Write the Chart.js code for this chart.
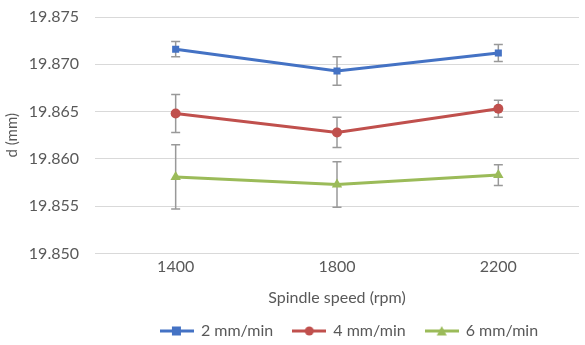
<!DOCTYPE html>
<html>
<head>
<meta charset="utf-8">
<script src="https://cdn.jsdelivr.net/npm/chart.js@4"></script>
<style>
  html, body { margin: 0; padding: 0; background: #fff; }
  #wrap { width: 585px; height: 345px; }
</style>
</head>
<body>
<div id="wrap"><canvas id="chart"></canvas></div>
<script>
const speeds = ['1400', '1800', '2200'];
const seriesNames = ['2 mm/min', '4 mm/min', '6 mm/min'];
const d2 = [19.8716, 19.8693, 19.8712];
const d4 = [19.8648, 19.8628, 19.8653];
const d6 = [19.8581, 19.8573, 19.8583];
const err2 = [0.0008, 0.0015, 0.0009];
const err4 = [0.0020, 0.0016, 0.0009];
const err6 = [0.0034, 0.0024, 0.0011];
const yMin = 19.850, yMax = 19.875, yStep = 0.005;

const colors = ['#4472c4', '#c0504d', '#9bbb59'];
const markers = ['rect', 'circle', 'triangle'];

// little "line + marker" images for the legend
function legendIcon(color, style) {
    const c = document.createElement('canvas');
    c.width = 34; c.height = 12;
    const g = c.getContext('2d');
    g.strokeStyle = color; g.lineWidth = 3;
    g.beginPath(); g.moveTo(0, 6); g.lineTo(34, 6); g.stroke();
    g.fillStyle = color;
    if (style === 'rect') g.fillRect(12, 1.5, 9, 9);
    else if (style === 'circle') { g.beginPath(); g.arc(17, 6, 4.5, 0, Math.PI * 2); g.fill(); }
    else { g.beginPath(); g.moveTo(17, 1); g.lineTo(22, 10.5); g.lineTo(12, 10.5); g.closePath(); g.fill(); }
    return c;
}

// error bars, drawn behind the lines
const errorBars = {
    id: 'errorBars',
    beforeDatasetsDraw(chart) {
        const ctx = chart.ctx, y = chart.scales.y;
        ctx.save();
        ctx.strokeStyle = '#999999';
        ctx.lineWidth = 1.5;
        chart.data.datasets.forEach((ds, i) => {
            chart.getDatasetMeta(i).data.forEach((pt, j) => {
                const top = y.getPixelForValue(ds.data[j] + ds.errors[j]);
                const bot = y.getPixelForValue(ds.data[j] - ds.errors[j]);
                ctx.beginPath();
                ctx.moveTo(pt.x, top); ctx.lineTo(pt.x, bot);
                ctx.moveTo(pt.x - 4.5, top); ctx.lineTo(pt.x + 4.5, top);
                ctx.moveTo(pt.x - 4.5, bot); ctx.lineTo(pt.x + 4.5, bot);
                ctx.stroke();
            });
        });
        ctx.restore();
    }
};

// the legend sits a bit right of the canvas centre in the original
const shiftLegend = {
    id: 'shiftLegend',
    afterLayout(chart) {
        if (chart.legend) { chart.legend.left += 57; chart.legend.right += 57; }
    }
};

function makeSet(i, data, errors) {
    return {
        label: seriesNames[i],
        data: data,
        errors: errors,
        borderColor: colors[i],
        backgroundColor: colors[i],
        borderWidth: 3,
        pointStyle: markers[i],
        pointRadius: markers[i] === 'triangle' ? 6 : 5,
        pointHoverRadius: 5,
        pointBorderWidth: 0,
        tension: 0
    };
}

const fontFamily = 'Lato, "Open Sans", sans-serif';
const textColor = '#595959';
const font16 = { family: fontFamily, size: 16 };

new Chart(document.getElementById('chart'), {
    type: 'line',
    data: {
        labels: speeds,
        datasets: [makeSet(0, d2, err2), makeSet(1, d4, err4), makeSet(2, d6, err6)]
    },
    options: {
        responsive: true,
        maintainAspectRatio: false,
        animation: false,
        layout: { padding: { top: 17, right: 0, left: 0, bottom: -4 } },
        plugins: {
            tooltip: { enabled: false },
            legend: {
                position: 'bottom',
                labels: {
                    usePointStyle: true,
                    pointStyleWidth: 32,
                    boxHeight: 12,
                    padding: 20,
                    color: textColor,
                    font: font16,
                    generateLabels: chart => chart.data.datasets.map((ds, i) => ({
                        text: ds.label,
                        pointStyle: legendIcon(colors[i], markers[i]),
                        fillStyle: colors[i],
                        strokeStyle: colors[i],
                        lineWidth: 0,
                        fontColor: textColor,
                        datasetIndex: i
                    }))
                }
            }
        },
        scales: {
            x: {
                offset: true,
                grid: { display: false, drawTicks: false },
                border: { display: false },
                ticks: { color: textColor, font: font16, padding: 4 },
                title: {
                    display: true,
                    text: 'Spindle speed (rpm)',
                    color: textColor,
                    font: font16,
                    padding: { top: 7, bottom: -4 }
                }
            },
            y: {
                min: yMin,
                max: yMax,
                afterFit: s => { s.width = 95; },
                afterBuildTicks: s => {
                    s.ticks = [];
                    for (let v = yMin; v <= yMax + 1e-9; v += yStep) s.ticks.push({ value: +v.toFixed(3) });
                },
                // invisible tick marks give the label gap without extra top padding
                grid: { color: '#d9d9d9', lineWidth: 1, drawTicks: true, tickLength: 16, tickColor: 'rgba(0,0,0,0)' },
                border: { display: false },
                ticks: {
                    color: textColor,
                    font: font16,
                    padding: 0,
                    callback: v => Number(v).toFixed(3)
                },
                title: {
                    display: true,
                    text: 'd (mm)',
                    color: textColor,
                    font: { family: fontFamily, size: 15 },
                    padding: { top: 3, bottom: 0 }
                }
            }
        }
    },
    plugins: [errorBars, shiftLegend]
});
</script>
</body>
</html>
